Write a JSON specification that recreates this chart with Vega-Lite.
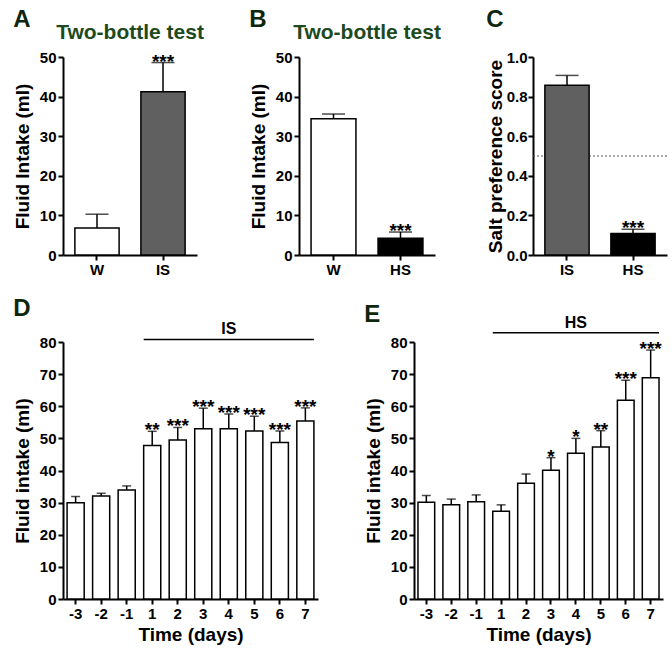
{
  "$schema": "https://vega.github.io/schema/vega-lite/v6.json",
  "background": "white",
  "padding": {"left": 13, "top": 8, "right": 2, "bottom": 2},
  "config": {
    "font": "Liberation Sans",
    "view": {"stroke": null},
    "axis": {"domainColor": "black", "domainWidth": 2, "tickColor": "black", "tickWidth": 2, "tickSize": 5, "labelColor": "black", "labelFont": "Liberation Sans", "labelFontWeight": "bold", "labelFontSize": 15, "labelOverlap": false, "titleColor": "black", "titleFontWeight": "bold", "titleFontSize": 19, "titleFont": "Liberation Sans", "grid": false, "labelPadding": 2, "titlePadding": 7},
    "axisX": {"labelAngle": 0, "titlePadding": 4},
    "title": {"font": "Liberation Sans", "fontWeight": "bold"}
  },
  "spacing": 20,
  "vconcat": [
    {
      "spacing": 45,
      "hconcat": [
        {
          "title": {"text": "A", "anchor": "start", "fontSize": 24, "color": "#0d260d", "offset": -10},
          "vconcat": [
            {
              "title": {"text": "Two-bottle test", "fontSize": 21, "color": "#1d4a1d", "offset": 7, "frame": "group"},
              "width": 134, "height": 198,
              "data": {"values": [
                {"g": "W", "v": 6.8, "e": 10.3, "sig": ""},
                {"g": "IS", "v": 41.2, "e": 48.6, "sig": "***"}
              ]},
              "encoding": {
                "x": {"field": "g", "type": "nominal", "sort": null, "title": null, "scale": {"paddingInner": 0.33, "paddingOuter": 0.18}}
              },
              "layer": [
                {"mark": {"type": "rule", "color": "black", "strokeWidth": 1.5},
                 "encoding": {"y": {"field": "v", "type": "quantitative", "title": "Fluid Intake (ml)", "scale": {"domain": [0, 50], "nice": false}, "axis": {"values": [0, 10, 20, 30, 40, 50]}}, "y2": {"field": "e"}}},
                {"mark": {"type": "tick", "color": "black", "thickness": 1.5, "size": 23},
                 "encoding": {"y": {"field": "e", "type": "quantitative", "title": "Fluid Intake (ml)", "axis": {"values": [0, 10, 20, 30, 40, 50]}}}},
                {"mark": {"type": "bar", "stroke": "black", "strokeWidth": 1.5},
                 "encoding": {
                   "y": {"field": "v", "type": "quantitative", "title": "Fluid Intake (ml)", "scale": {"domain": [0, 50], "nice": false}, "axis": {"values": [0, 10, 20, 30, 40, 50]}},
                   "fill": {"field": "g", "type": "nominal", "scale": {"domain": ["W", "IS", "HS"], "range": ["white", "#606060", "black"]}, "legend": null}
                 }},
                {"mark": {"type": "text", "fontSize": 19, "fontWeight": "bold", "baseline": "alphabetic", "dy": 5, "color": "black"},
                 "encoding": {"y": {"field": "e", "type": "quantitative", "title": "Fluid Intake (ml)", "axis": {"values": [0, 10, 20, 30, 40, 50]}}, "text": {"field": "sig"}}}
              ]
            }
          ]
        },
        {
          "title": {"text": "B", "anchor": "start", "fontSize": 24, "color": "#0d260d", "offset": -10},
          "vconcat": [
            {
              "title": {"text": "Two-bottle test", "fontSize": 21, "color": "#1d4a1d", "offset": 7, "frame": "group"},
              "width": 136, "height": 198,
              "data": {"values": [
                {"g": "W", "v": 34.4, "e": 35.6, "sig": ""},
                {"g": "HS", "v": 4.2, "e": 5.8, "sig": "***"}
              ]},
              "encoding": {
                "x": {"field": "g", "type": "nominal", "sort": null, "title": null, "scale": {"paddingInner": 0.33, "paddingOuter": 0.18}}
              },
              "layer": [
                {"mark": {"type": "rule", "color": "black", "strokeWidth": 1.5},
                 "encoding": {"y": {"field": "v", "type": "quantitative", "title": "Fluid Intake (ml)", "scale": {"domain": [0, 50], "nice": false}, "axis": {"values": [0, 10, 20, 30, 40, 50]}}, "y2": {"field": "e"}}},
                {"mark": {"type": "tick", "color": "black", "thickness": 1.5, "size": 23},
                 "encoding": {"y": {"field": "e", "type": "quantitative", "title": "Fluid Intake (ml)", "axis": {"values": [0, 10, 20, 30, 40, 50]}}}},
                {"mark": {"type": "bar", "stroke": "black", "strokeWidth": 1.5},
                 "encoding": {
                   "y": {"field": "v", "type": "quantitative", "title": "Fluid Intake (ml)", "scale": {"domain": [0, 50], "nice": false}, "axis": {"values": [0, 10, 20, 30, 40, 50]}},
                   "fill": {"field": "g", "type": "nominal", "scale": {"domain": ["W", "IS", "HS"], "range": ["white", "#606060", "black"]}, "legend": null}
                 }},
                {"mark": {"type": "text", "fontSize": 19, "fontWeight": "bold", "baseline": "alphabetic", "dy": 5, "color": "black"},
                 "encoding": {"y": {"field": "e", "type": "quantitative", "title": "Fluid Intake (ml)", "axis": {"values": [0, 10, 20, 30, 40, 50]}}, "text": {"field": "sig"}}}
              ]
            }
          ]
        },
        {
          "title": {"text": "C", "anchor": "start", "fontSize": 24, "color": "#0d260d", "offset": -10},
          "vconcat": [
            {
              "title": {"text": " ", "fontSize": 21, "color": "#1d4a1d", "offset": 7, "frame": "group"},
              "width": 134, "height": 198,
              "encoding": {
                "x": {"field": "g", "type": "nominal", "sort": null, "title": null, "scale": {"domain": ["IS", "HS"], "paddingInner": 0.33, "paddingOuter": 0.18}}
              },
              "layer": [
                {"data": {"values": [{"ref": 0.5}]},
                 "mark": {"type": "rule", "color": "#555555", "strokeWidth": 1, "strokeDash": [2, 2]},
                 "encoding": {"x": null, "y": {"field": "ref", "type": "quantitative", "title": "Salt preference score", "scale": {"domain": [0, 1], "nice": false}, "axis": {"values": [0, 0.2, 0.4, 0.6, 0.8, 1.0], "format": ".1f", "titlePadding": 1, "labelPadding": 1}}}},
                {"data": {"name": "cdata"}, "mark": {"type": "rule", "color": "black", "strokeWidth": 1.5},
                 "encoding": {"y": {"field": "v", "type": "quantitative", "title": "Salt preference score", "axis": {"values": [0, 0.2, 0.4, 0.6, 0.8, 1.0], "format": ".1f", "titlePadding": 1, "labelPadding": 1}}, "y2": {"field": "e"}}},
                {"data": {"name": "cdata"}, "mark": {"type": "tick", "color": "black", "thickness": 1.5, "size": 23},
                 "encoding": {"y": {"field": "e", "type": "quantitative", "title": "Salt preference score", "axis": {"values": [0, 0.2, 0.4, 0.6, 0.8, 1.0], "format": ".1f", "titlePadding": 1, "labelPadding": 1}}}},
                {"data": {"name": "cdata"}, "mark": {"type": "bar", "stroke": "black", "strokeWidth": 1.5},
                 "encoding": {
                   "y": {"field": "v", "type": "quantitative", "title": "Salt preference score", "scale": {"domain": [0, 1], "nice": false}, "axis": {"values": [0, 0.2, 0.4, 0.6, 0.8, 1.0], "format": ".1f", "titlePadding": 1, "labelPadding": 1}},
                   "fill": {"field": "g", "type": "nominal", "scale": {"domain": ["W", "IS", "HS"], "range": ["white", "#606060", "black"]}, "legend": null}
                 }},
                {"data": {"name": "cdata"}, "mark": {"type": "text", "fontSize": 19, "fontWeight": "bold", "baseline": "alphabetic", "dy": 5, "color": "black"},
                 "encoding": {"y": {"field": "e", "type": "quantitative", "title": "Salt preference score", "axis": {"values": [0, 0.2, 0.4, 0.6, 0.8, 1.0], "format": ".1f", "titlePadding": 1, "labelPadding": 1}}, "text": {"field": "sig"}}}
              ]
            }
          ]
        }
      ]
    },
    {
      "spacing": 46,
      "hconcat": [
        {
          "title": {"text": "D", "anchor": "start", "fontSize": 24, "color": "#0d260d", "offset": 0},
          "width": 255, "height": 257,
          "encoding": {
            "x": {"field": "day", "type": "nominal", "title": "Time (days)", "scale": {"domain": ["-3", "-2", "-1", "1", "2", "3", "4", "5", "6", "7"], "paddingInner": 0.33, "paddingOuter": 0.16}},
            "y": {"field": "v", "type": "quantitative", "title": "Fluid intake (ml)", "scale": {"domain": [0, 80], "nice": false}, "axis": {"values": [0, 10, 20, 30, 40, 50, 60, 70, 80]}}
          },
          "layer": [
            {"data": {"name": "ddata"}, "mark": {"type": "rule", "color": "black", "strokeWidth": 1.5},
             "encoding": {"y2": {"field": "e"}}},
            {"data": {"name": "ddata"}, "mark": {"type": "tick", "color": "black", "thickness": 1.5, "size": 9},
             "encoding": {"y": {"field": "e", "type": "quantitative", "title": "Fluid intake (ml)", "axis": {"values": [0, 10, 20, 30, 40, 50, 60, 70, 80]}}}},
            {"data": {"name": "ddata"}, "mark": {"type": "bar", "fill": "white", "stroke": "black", "strokeWidth": 1.5},
             "encoding": {}},
            {"data": {"name": "ddata"}, "mark": {"type": "text", "fontSize": 19, "fontWeight": "bold", "baseline": "alphabetic", "dy": 5, "color": "black"},
             "encoding": {"y": {"field": "e", "type": "quantitative", "title": "Fluid intake (ml)", "axis": {"values": [0, 10, 20, 30, 40, 50, 60, 70, 80]}}, "text": {"field": "sig"}}},
            {"data": {"values": [{"day": "1", "day2": "7", "v": 80.8}]},
             "mark": {"type": "rule", "color": "black", "strokeWidth": 1.5},
             "encoding": {"x": {"field": "day", "type": "nominal", "title": "Time (days)", "bandPosition": 0}, "x2": {"field": "day2", "bandPosition": 1}}},
            {"data": {"values": [{"day": "4", "v": 80.8, "label": "IS"}]},
             "mark": {"type": "text", "fontSize": 16, "fontWeight": "bold", "baseline": "bottom", "dy": -2, "color": "black"},
             "encoding": {"text": {"field": "label"}}}
          ]
        },
        {
          "title": {"text": "E", "anchor": "start", "fontSize": 24, "color": "#0d260d", "offset": -12},
          "width": 249, "height": 257,
          "encoding": {
            "x": {"field": "day", "type": "nominal", "title": "Time (days)", "scale": {"domain": ["-3", "-2", "-1", "1", "2", "3", "4", "5", "6", "7"], "paddingInner": 0.33, "paddingOuter": 0.16}},
            "y": {"field": "v", "type": "quantitative", "title": "Fluid intake (ml)", "scale": {"domain": [0, 80], "nice": false}, "axis": {"values": [0, 10, 20, 30, 40, 50, 60, 70, 80]}}
          },
          "layer": [
            {"data": {"name": "edata"}, "mark": {"type": "rule", "color": "black", "strokeWidth": 1.5},
             "encoding": {"y2": {"field": "e"}}},
            {"data": {"name": "edata"}, "mark": {"type": "tick", "color": "black", "thickness": 1.5, "size": 9},
             "encoding": {"y": {"field": "e", "type": "quantitative", "title": "Fluid intake (ml)", "axis": {"values": [0, 10, 20, 30, 40, 50, 60, 70, 80]}}}},
            {"data": {"name": "edata"}, "mark": {"type": "bar", "fill": "white", "stroke": "black", "strokeWidth": 1.5},
             "encoding": {}},
            {"data": {"name": "edata"}, "mark": {"type": "text", "fontSize": 19, "fontWeight": "bold", "baseline": "alphabetic", "dy": 5, "color": "black"},
             "encoding": {"y": {"field": "e", "type": "quantitative", "title": "Fluid intake (ml)", "axis": {"values": [0, 10, 20, 30, 40, 50, 60, 70, 80]}}, "text": {"field": "sig"}}},
            {"data": {"values": [{"day": "1", "day2": "7", "v": 82.9}]},
             "mark": {"type": "rule", "color": "black", "strokeWidth": 1.5},
             "encoding": {"x": {"field": "day", "type": "nominal", "title": "Time (days)", "bandPosition": 0}, "x2": {"field": "day2", "bandPosition": 1}}},
            {"data": {"values": [{"day": "4", "v": 82.9, "label": "HS"}]},
             "mark": {"type": "text", "fontSize": 16, "fontWeight": "bold", "baseline": "bottom", "dy": -2, "color": "black"},
             "encoding": {"text": {"field": "label"}}}
          ]
        }
      ]
    }
  ],
  "datasets": {
    "cdata": [
      {"g": "IS", "v": 0.857, "e": 0.907, "sig": ""},
      {"g": "HS", "v": 0.109, "e": 0.13, "sig": "***"}
    ],
    "ddata": [
      {"day": "-3", "v": 30.0, "e": 31.9, "sig": ""},
      {"day": "-2", "v": 32.1, "e": 32.9, "sig": ""},
      {"day": "-1", "v": 33.9, "e": 35.2, "sig": ""},
      {"day": "1", "v": 47.8, "e": 52.2, "sig": "**"},
      {"day": "2", "v": 49.5, "e": 53.4, "sig": "***"},
      {"day": "3", "v": 53.0, "e": 59.4, "sig": "***"},
      {"day": "4", "v": 53.0, "e": 57.6, "sig": "***"},
      {"day": "5", "v": 52.3, "e": 56.9, "sig": "***"},
      {"day": "6", "v": 48.7, "e": 52.3, "sig": "***"},
      {"day": "7", "v": 55.4, "e": 59.5, "sig": "***"}
    ],
    "edata": [
      {"day": "-3", "v": 30.1, "e": 32.2, "sig": ""},
      {"day": "-2", "v": 29.3, "e": 31.1, "sig": ""},
      {"day": "-1", "v": 30.3, "e": 32.4, "sig": ""},
      {"day": "1", "v": 27.3, "e": 29.3, "sig": ""},
      {"day": "2", "v": 36.0, "e": 38.9, "sig": ""},
      {"day": "3", "v": 40.1, "e": 44.0, "sig": "*"},
      {"day": "4", "v": 45.4, "e": 50.0, "sig": "*"},
      {"day": "5", "v": 47.3, "e": 52.4, "sig": "**"},
      {"day": "6", "v": 61.9, "e": 68.1, "sig": "***"},
      {"day": "7", "v": 68.9, "e": 77.5, "sig": "***"}
    ]
  }
}
